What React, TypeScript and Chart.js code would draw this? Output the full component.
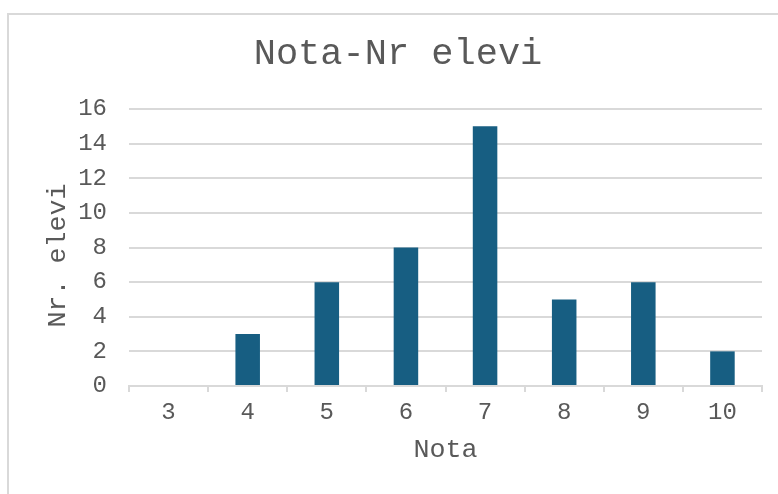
import React, { useEffect, useRef } from "react";
import { Chart, registerables } from "chart.js";

Chart.register(...registerables);

const categories = ["3", "4", "5", "6", "7", "8", "9", "10"];
const counts = [0, 3, 6, 8, 15, 5, 6, 2];
const chartTitle = "Nota-Nr elevi";
const xTitle = "Nota";
const yTitle = "Nr. elevi ";

const FONT = "'Liberation Mono', 'Courier New', monospace";
const TEXT = "#595959";
const GRID = "#d9d9d9";

const framePlugin = {
  id: "frame",
  beforeDraw(chart: any) {
    const ctx = chart.ctx;
    ctx.save();
    ctx.fillStyle = "#ffffff";
    ctx.fillRect(0, 0, chart.width, chart.height);
    ctx.fillStyle = GRID;
    ctx.fillRect(7, 13, 2, chart.height);
    ctx.fillRect(7, 13, chart.width, 2);
    ctx.restore();
  },
};

export default function App() {
  const ref = useRef<HTMLCanvasElement | null>(null);
  useEffect(() => {
    if (!ref.current) return;
    const chart = new Chart(ref.current, {
      type: "bar",
      data: {
        labels: categories,
        datasets: [
          {
            data: counts,
            backgroundColor: "#175E82",
            barPercentage: 0.31,
            categoryPercentage: 1,
          },
        ],
      },
      options: {
        responsive: false,
        animation: false,
        layout: { padding: { left: 34, right: 16, top: 0, bottom: 0 } },
        plugins: {
          legend: { display: false },
          tooltip: { enabled: false },
          title: {
            display: true,
            text: chartTitle,
            color: TEXT,
            font: { family: FONT, size: 37, weight: "normal" },
            padding: { top: 32, bottom: 32.6 },
          },
        },
        scales: {
          x: {
            afterFit: (s: any) => {
              s.height = 108;
            },
            grid: {
              offset: true,
              drawOnChartArea: false,
              drawTicks: true,
              tickLength: 6,
              color: GRID,
              lineWidth: 2,
            },
            border: { display: true, color: GRID, width: 2 },
            ticks: {
              color: TEXT,
              padding: 6,
              font: { family: FONT, size: 24 },
            },
            title: {
              display: true,
              text: xTitle,
              color: TEXT,
              font: { family: FONT, size: 26.7 },
              padding: { top: 0, bottom: 28.5 },
            },
          },
          y: {
            min: 0,
            max: 16,
            afterFit: (s: any) => {
              s.width = 95;
            },
            ticks: {
              stepSize: 2,
              color: TEXT,
              padding: 22,
              font: { family: FONT, size: 24 },
            },
            grid: {
              color: GRID,
              lineWidth: 2,
              drawTicks: false,
            },
            border: { display: false },
            title: {
              display: true,
              text: yTitle,
              color: TEXT,
              font: { family: FONT, size: 26.7 },
              padding: { top: 8, bottom: 0 },
            },
          },
        },
      },
      plugins: [framePlugin],
    });
    return () => chart.destroy();
  }, []);
  return (
    <div style={{ position: "fixed", left: 0, top: 0, width: 778, height: 494, background: "#fff" }}>
      <canvas ref={ref} width={778} height={494} style={{ display: "block" }} />
    </div>
  );
}
